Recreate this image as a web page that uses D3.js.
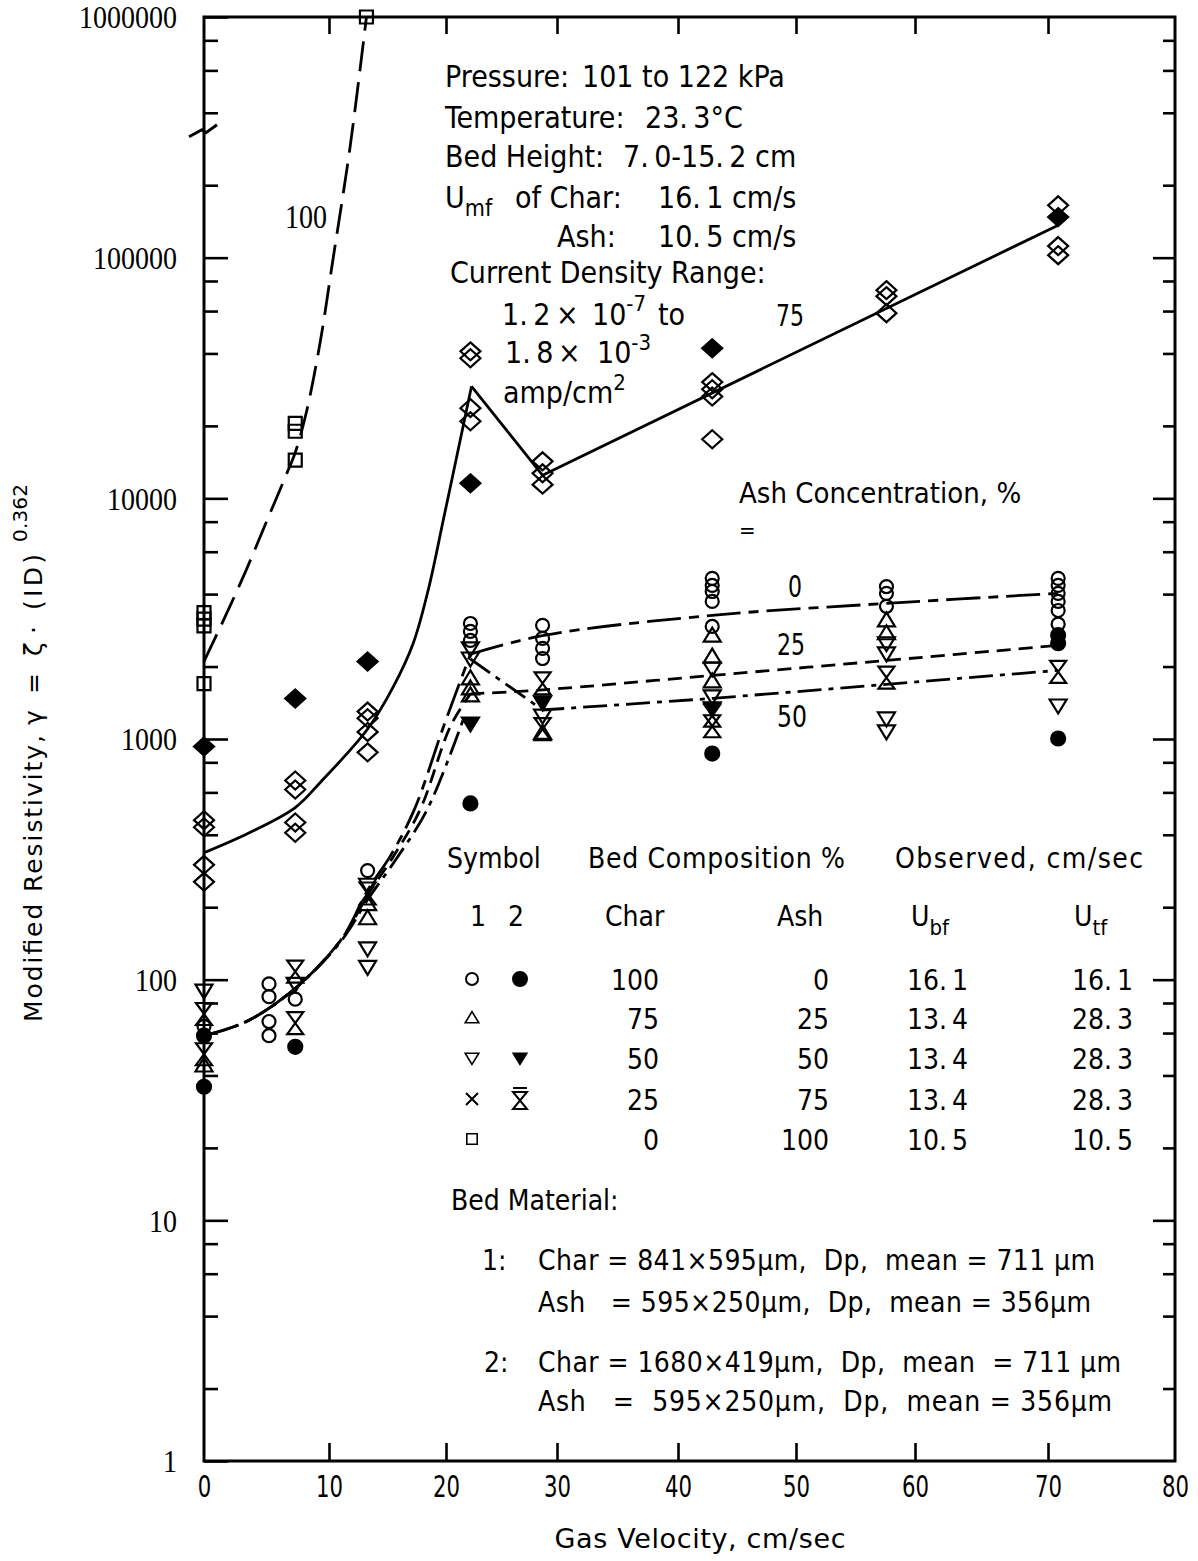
<!DOCTYPE html>
<html>
<head>
<meta charset="utf-8">
<script src="https://cdn.jsdelivr.net/npm/d3@7"></script>
<style>
  body { margin: 0; background: #fff; }
  svg { display: block; }
  svg text { fill: #000; white-space: pre; }
  .sans { font-family: 'DejaVu Sans Condensed', 'DejaVu Sans', sans-serif; font-stretch: condensed; }
  .plain { font-family: 'DejaVu Sans', sans-serif; }
  .serif { font-family: 'Liberation Serif', 'DejaVu Serif', serif; }
</style>
</head>
<body>
<div id="chart"></div>
<script>
// ---------- axis values ----------
const xTicks = [0, 10, 20, 30, 40, 50, 60, 70, 80];
const xTickLabels = ["0", "10", "20", "30", "40", "50", "60", "70", "80"];
const yMajorTicks = [1, 10, 100, 1000, 10000, 100000, 1000000];
const yTickLabels = ["1", "10", "100", "1000", "10000", "100000", "1000000"];
const yMinorSteps = [2, 4, 6, 8];

// ---------- measured points: [gas velocity cm/s, modified resistivity] ----------
// 100 % ash bed, material 1 (open squares)
const ash100Open = [[0, 3350], [0, 3150], [0, 2950], [0, 1700],
  [7.3, 20500], [7.3, 19000], [7.3, 14400], [13.2, 1000000]];
// 75 % ash bed (open diamonds)
const ash75Open = [[0, 460], [0, 430], [0, 300], [0, 255],
  [7.3, 672], [7.3, 617], [7.3, 450], [7.3, 408],
  [13.3, 1300], [13.3, 1220], [13.3, 1070], [13.3, 880],
  [22.2, 40800], [22.2, 38200], [22.2, 23700], [22.2, 20900],
  [28.7, 14250], [28.7, 12700], [28.7, 11400],
  [42.9, 30400], [42.9, 28400], [42.9, 26500], [42.9, 17600],
  [57.6, 73300], [57.6, 69200], [57.6, 58800],
  [70.8, 165000], [70.8, 111700], [70.8, 102400]];
// 75 % ash bed (filled diamonds)
const ash75Filled = [[0, 931], [7.3, 1473], [13.3, 2100], [22.2, 11540], [42.9, 42000], [70.8, 147400]];
// 0 % ash (100 % char), material 1 and 2
const ash0Open = [[0, 64], [5.2, 96], [5.2, 85], [5.2, 67], [5.2, 58.5], [7.3, 83], [13.3, 284],
  [22.2, 3020], [22.2, 2800], [22.2, 2570],
  [28.7, 2966], [28.7, 2618], [28.7, 2380], [28.7, 2160],
  [42.9, 4650], [42.9, 4350], [42.9, 4100], [42.9, 3730], [42.9, 2935],
  [57.6, 4300], [57.6, 4030], [57.6, 3560],
  [70.8, 4650], [70.8, 4350], [70.8, 4030], [70.8, 3730], [70.8, 3420], [70.8, 3000]];
const ash0Filled = [[0, 58.5], [0, 35.9], [7.3, 52.6], [22.2, 540], [42.9, 870], [70.8, 1005], [70.8, 2700], [70.8, 2500]];
// 25 % ash (open triangles up)
const ash25Open = [[0, 44], [13.3, 206], [13.3, 180], [22.2, 1785], [22.2, 1622], [22.2, 1517], [28.7, 1060],
  [42.9, 2690], [42.9, 2200], [42.9, 1734], [57.6, 3110], [57.6, 2750]];
// 50 % ash (triangles down)
const ash50Open = [[0, 90], [7.3, 96], [13.3, 248], [13.3, 135], [13.3, 113], [22.2, 2380], [22.2, 2160],
  [28.7, 1250], [42.9, 1963], [42.9, 1503], [57.6, 2500], [57.6, 2270], [57.6, 1217], [57.6, 1075], [70.8, 1378]];
const ash50Filled = [[22.2, 1160], [28.7, 1420], [42.9, 1340]];
// 75 % ash, material 2 (hourglass)
const ash75Hourglass = [[0, 72], [0, 49], [7.3, 108], [7.3, 66], [13.3, 228], [28.7, 1702], [28.7, 1100],
  [42.9, 1250], [42.9, 1130], [57.6, 1800], [70.8, 1900]];

// ---------- faired curves ----------
const curve100 = [[0, 2100], [1.7, 3230], [3.4, 5070], [5.0, 8000], [6.6, 12600], [7.3, 15500],
  [8.2, 22900], [9.3, 44700], [10.3, 95500], [11.8, 288000], [13.2, 1000000]];
const curve75Rise = [[0, 337], [3.5, 405], [7.3, 519], [9.3, 660], [13.3, 1100], [15.5, 1650],
  [17.2, 2500], [18.5, 4200], [19.8, 8260], [21.5, 19500], [22.3, 29200]];
const curve75Run = [[22.3, 29200], [28.7, 12470], [70.8, 136500]];
const curve0Rise = [[0, 58.5], [3.4, 67], [7.3, 92], [11.1, 148], [13.3, 235], [15.3, 330], [17.3, 510], [19.8, 1130], [22.2, 2250]];
const curve0Run = [[22.2, 2250], [28.7, 2690], [42.9, 3264], [57.6, 3660], [70.8, 4030]];
const curve25Rise = [[0, 58.5], [3.4, 67], [7.3, 92], [11.1, 148], [13.3, 225], [15.5, 325], [17.8, 510], [20.4, 1130], [22.2, 1540]];
const curve25Run = [[22.2, 1540], [28.7, 1600], [42.9, 1837], [57.6, 2120], [70.8, 2450]];
const curve50Rise = [[0, 58.5], [3.4, 67], [7.3, 92], [11.1, 146], [13.3, 215], [15.8, 320], [18.4, 510], [21.6, 1220]];
const curve50Run = [[22.2, 2150], [28.7, 1320], [42.9, 1474], [57.6, 1687], [70.8, 1928]];

// ---------- legend table ----------
const compChar = ["100", "75", "50", "25", "0"];
const compAsh = ["0", "25", "50", "75", "100"];
const uBf = ["16.\u20091", "13.\u20094", "13.\u20094", "13.\u20094", "10.\u20095"];
const uTf = ["16.\u20091", "28.\u20093", "28.\u20093", "28.\u20093", "10.\u20095"];
const legendSym1 = ["circle", "triUp", "triDown", "cross", "square"];
const legendSym2 = ["dot", null, "triDownFilled", "hourglassBar", null];

// ---------- layout ----------
const W = 1198, H = 1561;
const frame = { left: 204, right: 1175, top: 17, bottom: 1461 };
// the x axis is hand-ruled, its tick spacing varies slightly along the axis
const xTickPx = [204, 329, 446, 557, 678, 796, 915, 1048, 1175];

const x = d3.scaleLinear().domain(xTicks).range(xTickPx);
const y = d3.scaleLog().domain([1, 1000000]).range([frame.bottom, frame.top]);

const svg = d3.select("#chart").append("svg")
  .attr("width", W).attr("height", H).attr("viewBox", `0 0 ${W} ${H}`);
svg.append("rect").attr("width", W).attr("height", H).attr("fill", "#fff");

const yMinorTicks = [];
yMajorTicks.slice(0, -1).forEach(p => yMinorSteps.forEach(m => yMinorTicks.push(p * m)));

// ---------- axes ----------
const axisStyle = g => {
  g.select(".domain").remove();
  g.selectAll(".tick line").attr("stroke", "#000").attr("stroke-width", 2.6);
};
// left
svg.append("g").attr("transform", `translate(${frame.left},0)`)
  .call(d3.axisLeft(y).tickValues(yMajorTicks).tickSize(-24).tickPadding(27)
    .tickFormat((d, i) => yTickLabels[i]))
  .call(axisStyle)
  .call(g => g.selectAll("text").attr("class", "serif").style("font-size", "32px")
    .attr("textLength", (d, i) => yTickLabels[i].length * 14).attr("lengthAdjust", "spacingAndGlyphs")
    .attr("dy", "0.34em"));
svg.append("g").attr("transform", `translate(${frame.left},0)`)
  .call(d3.axisLeft(y).tickValues(yMinorTicks).tickSize(-14).tickFormat(""))
  .call(axisStyle);
// right
svg.append("g").attr("transform", `translate(${frame.right},0)`)
  .call(d3.axisRight(y).tickValues(yMajorTicks.slice(1, -1)).tickSize(-22).tickFormat(""))
  .call(axisStyle);
svg.append("g").attr("transform", `translate(${frame.right},0)`)
  .call(d3.axisRight(y).tickValues(yMinorTicks).tickSize(-12).tickFormat(""))
  .call(axisStyle);
// bottom
svg.append("g").attr("transform", `translate(0,${frame.bottom})`)
  .call(d3.axisBottom(x).tickValues(xTicks).tickSize(-18).tickPadding(0)
    .tickFormat((d, i) => xTickLabels[i]))
  .call(axisStyle)
  .call(g => g.selectAll(".tick line").filter(d => d === 0 || d === 80).remove())
  .call(g => g.selectAll("text").attr("class", "sans").style("font-size", "30px")
    .attr("y", 25).attr("dy", "0.36em")
    .attr("textLength", (d, i) => xTickLabels[i].length * 13.5).attr("lengthAdjust", "spacingAndGlyphs"));
// top
svg.append("g").attr("transform", `translate(0,${frame.top})`)
  .call(d3.axisTop(x).tickValues(xTicks.slice(1, -1)).tickSize(-17).tickFormat(""))
  .call(axisStyle);

// frame
svg.append("rect")
  .attr("x", frame.left).attr("y", frame.top)
  .attr("width", frame.right - frame.left).attr("height", frame.bottom - frame.top)
  .attr("fill", "none").attr("stroke", "#000").attr("stroke-width", 3);

// scale break on the left axis
const yBreak = y(350000);
svg.append("path")
  .attr("d", `M${frame.left - 15},${yBreak + 10} L${frame.left - 2},${yBreak + 3} L${frame.left + 2},${yBreak + 6} L${frame.left + 13},${yBreak - 2}`)
  .attr("fill", "none").attr("stroke", "#000").attr("stroke-width", 3);

// axis titles
svg.append("text").attr("class", "plain")
  .attr("x", 700).attr("y", 1548).attr("text-anchor", "middle")
  .style("font-size", "27px").attr("textLength", 291).attr("lengthAdjust", "spacing")
  .text("Gas Velocity, cm/sec");

const yTitle = svg.append("g").attr("class", "plain").attr("transform", "translate(42,1022) rotate(-90)")
  .style("font-size", "25px");
yTitle.append("text").attr("x", 0).attr("textLength", 287).attr("lengthAdjust", "spacing")
  .text("Modified Resistivity,");
yTitle.append("text").attr("x", 297).text("\u03B3");
yTitle.append("text").attr("x", 328).text("=");
yTitle.append("text").attr("x", 366).text("\u03B6");
yTitle.append("text").attr("x", 388).text("\u00B7");
yTitle.append("text").attr("x", 412).attr("textLength", 56).attr("lengthAdjust", "spacing").text("(ID)");
yTitle.append("text").attr("x", 480).attr("y", -15).style("font-size", "20px")
  .attr("textLength", 58).attr("lengthAdjust", "spacing").text("0.362");

// ---------- curves ----------
const smooth = d3.line().x(d => x(d[0])).y(d => y(d[1])).curve(d3.curveCatmullRom.alpha(0.5));
const straight = d3.line().x(d => x(d[0])).y(d => y(d[1]));
const curves = svg.append("g").attr("fill", "none").attr("stroke", "#000").attr("stroke-width", 2.8);

curves.append("path").attr("d", smooth(curve100)).attr("stroke-dasharray", "30,11");
curves.append("path").attr("d", smooth(curve75Rise));
curves.append("path").attr("d", straight(curve75Run)).attr("stroke-linejoin", "miter");
curves.append("path").attr("d", smooth(curve0Rise)).attr("stroke-dasharray", "34,8,10,8");
curves.append("path").attr("d", smooth(curve0Run)).attr("stroke-dasharray", "34,8,10,8");
curves.append("path").attr("d", smooth(curve25Rise)).attr("stroke-dasharray", "14,8");
curves.append("path").attr("d", smooth(curve25Run)).attr("stroke-dasharray", "14,8");
curves.append("path").attr("d", smooth(curve50Rise)).attr("stroke-dasharray", "24,7,5,7");
curves.append("path").attr("d", straight(curve50Run)).attr("stroke-dasharray", "24,7,5,7");

// ---------- markers ----------
const shapePath = {
  diamond: "M0,-9L10,0L0,9L-10,0Z",
  triUp: "M0,-8L8.5,6L-8.5,6Z",
  triDown: "M0,8L8.5,-6L-8.5,-6Z",
  hourglass: "M-8,-11L8,-11L-8,11L8,11Z",
  square: "M-6.5,-6.5H6.5V6.5H-6.5Z",
  cross: "M-6,-6L6,6M-6,6L6,-6",
  hourglassBar: "M-7,-11H7M-7,-7H7L-7,10H7Z"
};
const marks = svg.append("g").attr("stroke", "#000").attr("stroke-width", 2.2);

function drawPath(data, shape, filled) {
  marks.append("g").selectAll("path").data(data).join("path")
    .attr("d", shapePath[shape])
    .attr("transform", d => `translate(${x(d[0])},${y(d[1])})`)
    .attr("fill", filled ? "#000" : "none");
}
function drawCircles(data, filled, r) {
  marks.append("g").selectAll("circle").data(data).join("circle")
    .attr("cx", d => x(d[0])).attr("cy", d => y(d[1])).attr("r", r)
    .attr("fill", filled ? "#000" : "none");
}

drawPath(ash100Open, "square", false);
drawPath(ash75Open, "diamond", false);
drawPath(ash75Filled, "diamond", true);
drawCircles(ash0Open, false, 6.5);
drawCircles(ash0Filled, true, 7);
drawPath(ash25Open, "triUp", false);
drawPath(ash50Open, "triDown", false);
drawPath(ash50Filled, "triDown", true);
drawPath(ash75Hourglass, "hourglass", false);

// ---------- annotations ----------
const ann = svg.append("g").attr("class", "sans").style("font-size", "30px");
function textLine(parts, yb) {
  const t = ann.append("text").attr("y", yb);
  parts.forEach(p => {
    const s = t.append("tspan").text(p.t);
    if (p.x !== undefined) s.attr("x", p.x);
    if (p.dy) s.attr("dy", p.dy);
    if (p.size) s.style("font-size", p.size + "px");
  });
  return t;
}
textLine([{ t: "Pressure:", x: 445 }, { t: "101 to 122 kPa", x: 582 }], 87);
textLine([{ t: "Temperature:", x: 445 }, { t: "23.\u20093\u00B0C", x: 645 }], 128);
textLine([{ t: "Bed Height:", x: 445 }, { t: "7.\u20090-15.\u20092 cm", x: 623 }], 167);
textLine([{ t: "U", x: 445 }, { t: "mf", size: 23, dy: 8 }, { t: "of Char:", x: 515, dy: -8 }, { t: "16.\u20091 cm/s", x: 658 }], 208);
textLine([{ t: "Ash:", x: 557 }, { t: "10.\u20095 cm/s", x: 658 }], 247);
textLine([{ t: "Current Density Range:", x: 450 }], 283);
textLine([{ t: "1.\u20092", x: 502 }, { t: "\u00D7", x: 556 }, { t: "10", x: 592 }, { t: "-7", size: 22, dy: -14 }, { t: "to", x: 658, dy: 14 }], 325);
textLine([{ t: "1.\u20098", x: 505 }, { t: "\u00D7", x: 558 }, { t: "10", x: 597 }, { t: "-3", size: 22, dy: -13 }], 363);
textLine([{ t: "amp/cm", x: 503 }, { t: "2", size: 22, dy: -13 }], 403);

// curve labels
svg.append("text").attr("class", "serif").style("font-size", "34px")
  .attr("x", 285).attr("y", 228).attr("textLength", 42).attr("lengthAdjust", "spacingAndGlyphs").text("100");
const curveLabel = (t, xx, yb, w) => ann.append("text").attr("x", xx).attr("y", yb)
  .attr("textLength", w).attr("lengthAdjust", "spacingAndGlyphs").text(t);
curveLabel("75", 776, 326, 28);
curveLabel("0", 788, 597, 14);
curveLabel("25", 777, 655, 28);
curveLabel("50", 777, 727, 30);
ann.append("text").attr("x", 739).attr("y", 503).style("font-size", "29px").text("Ash Concentration, %");
ann.append("text").attr("x", 739).attr("y", 538).style("font-size", "22px").text("=");

// ---------- legend table ----------
const leg = svg.append("g").attr("class", "sans").style("font-size", "28px");
leg.append("text").attr("x", 447).attr("y", 868).text("Symbol");
leg.append("text").attr("x", 588).attr("y", 868).attr("textLength", 257).attr("lengthAdjust", "spacing").text("Bed Composition %");
leg.append("text").attr("x", 895).attr("y", 868).attr("textLength", 248).attr("lengthAdjust", "spacing").text("Observed, cm/sec");
leg.append("text").attr("x", 470).attr("y", 926).text("1");
leg.append("text").attr("x", 508).attr("y", 926).text("2");
leg.append("text").attr("x", 605).attr("y", 926).text("Char");
leg.append("text").attr("x", 777).attr("y", 926).text("Ash");
const ubfHead = leg.append("text").attr("x", 911).attr("y", 926);
ubfHead.append("tspan").text("U");
ubfHead.append("tspan").attr("dy", 9).style("font-size", "22px").text("bf");
const utfHead = leg.append("text").attr("x", 1074).attr("y", 926);
utfHead.append("tspan").text("U");
utfHead.append("tspan").attr("dy", 9).style("font-size", "22px").text("tf");

const rowBase = [990, 1029, 1069, 1110, 1150];
compChar.forEach((v, i) => {
  leg.append("text").attr("x", 659).attr("y", rowBase[i]).attr("text-anchor", "end").text(v);
  leg.append("text").attr("x", 829).attr("y", rowBase[i]).attr("text-anchor", "end").text(compAsh[i]);
  leg.append("text").attr("x", 907).attr("y", rowBase[i]).text(uBf[i]);
  leg.append("text").attr("x", 1072).attr("y", rowBase[i]).text(uTf[i]);
});
const legMarks = svg.append("g").attr("stroke", "#000").attr("stroke-width", 2);
function legendSymbol(kind, cx, cy) {
  if (!kind) return;
  if (kind === "circle" || kind === "dot") {
    legMarks.append("circle").attr("cx", cx).attr("cy", cy).attr("r", kind === "dot" ? 7 : 6)
      .attr("fill", kind === "dot" ? "#000" : "none");
    return;
  }
  const filled = kind === "triDownFilled";
  const key = filled ? "triDown" : kind;
  const scaled = kind !== "hourglassBar" && kind !== "cross";
  legMarks.append("path").attr("d", shapePath[key])
    .attr("transform", `translate(${cx},${cy})${scaled ? " scale(0.8)" : ""}`)
    .attr("fill", filled ? "#000" : "none");
}
legendSym1.forEach((k, i) => legendSymbol(k, 472, rowBase[i] - 11));
legendSym2.forEach((k, i) => legendSymbol(k, 520, rowBase[i] - 11));

// bed material notes
leg.append("text").attr("x", 451).attr("y", 1210).text("Bed Material:");
leg.append("text").attr("x", 482).attr("y", 1270).text("1:");
leg.append("text").attr("x", 538).attr("y", 1270).attr("textLength", 557).attr("lengthAdjust", "spacing")
  .text("Char = 841\u00D7595\u00B5m,  Dp,  mean = 711 \u00B5m");
leg.append("text").attr("x", 538).attr("y", 1312).attr("textLength", 553).attr("lengthAdjust", "spacing")
  .text("Ash   = 595\u00D7250\u00B5m,  Dp,  mean = 356\u00B5m");
leg.append("text").attr("x", 484).attr("y", 1372).text("2:");
leg.append("text").attr("x", 538).attr("y", 1372).attr("textLength", 583).attr("lengthAdjust", "spacing")
  .text("Char = 1680\u00D7419\u00B5m,  Dp,  mean  = 711 \u00B5m");
leg.append("text").attr("x", 538).attr("y", 1411).attr("textLength", 574).attr("lengthAdjust", "spacing")
  .text("Ash   =  595\u00D7250\u00B5m,  Dp,  mean = 356\u00B5m");
</script>
</body>
</html>
